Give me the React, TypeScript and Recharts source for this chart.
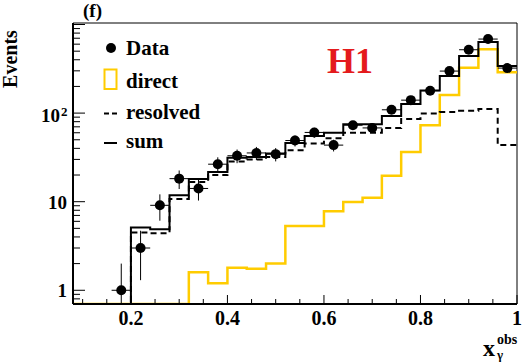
import React from "react";
import {
  ComposedChart,
  Line,
  Scatter,
  XAxis,
  YAxis,
  ErrorBar,
  ReferenceArea,
} from "recharts";

// histogram bins (left edges), width 0.04, last bin ends at 1.0
const binEdges = [
  0.08, 0.12, 0.16, 0.2, 0.24, 0.28, 0.32, 0.36, 0.4, 0.44, 0.48, 0.52,
  0.56, 0.6, 0.64, 0.68, 0.72, 0.76, 0.8, 0.84, 0.88, 0.92, 0.96,
];
const BIN_END = 1.0;
const BIN_HALF = 0.02;

const directCounts = [
  0, 0, 0, 0, 0, 0, 1.6, 1.2, 1.8, 1.75, 2.0, 5.3, 5.3, 7.8, 9.9, 11.1, 19.6,
  36.5, 73, 160, 325, 525, 290,
];
const resolvedCounts = [
  0, 0, 0, 4.5, 4.4, 10.7, 16.7, 20, 28.5, 30, 32, 38, 45.5, 52, 60, 60, 68,
  86, 99, 103, 106, 111, 43.5,
];
const sumCounts = [
  0, 0, 0, 5.1, 4.9, 11.8, 18, 21.7, 31.3, 32, 35, 46, 55, 60, 75, 75, 92.5,
  127, 180, 262, 440, 634, 340,
];

// data points (bin centres)
const dataX = [
  0.18, 0.22, 0.26, 0.3, 0.34, 0.38, 0.42, 0.46, 0.5, 0.54, 0.58, 0.62, 0.66,
  0.7, 0.74, 0.78, 0.82, 0.86, 0.9, 0.94, 0.98,
];
const dataY = [
  1, 3, 9.1, 18.2, 14.1, 26.5, 33, 35.5, 34.4, 49, 60.5, 43.5, 73, 68, 109,
  140, 179, 298, 519, 685, 322,
];
// first lower error runs down to the frame edge in the picture
const dataErrLow = [
  0.3, 1.7, 3, 4.3, 3.8, 5.2, 5.8, 6, 5.9, 7, 7.8, 6.6, 8.5, 8.2, 10.4, 11.8,
  13.4, 17.3, 22.8, 26.2, 18,
];
const dataErrHigh = [
  1, 1.7, 3, 4.3, 3.8, 5.2, 5.8, 6, 5.9, 7, 7.8, 6.6, 8.5, 8.2, 10.4, 11.8,
  13.4, 17.3, 22.8, 26.2, 18,
];

// axes
const X_MIN = 0.08;
const X_MAX = 1.0;
const Y_MIN = 0.7;
const Y_MAX = 1040;

const xMajorTicks = [0.2, 0.4, 0.6, 0.8, 1];
const xMinorTicks = [
  0.1, 0.15, 0.25, 0.3, 0.35, 0.45, 0.5, 0.55, 0.65, 0.7, 0.75, 0.85, 0.9,
  0.95,
];
const xLabelTexts = ["0.2", "0.4", "0.6", "0.8", "1"];

const yMajorTicks = [1, 10, 100, 1000];
const yMinorTicks = [
  0.8, 0.9, 2, 3, 4, 5, 6, 7, 8, 9, 20, 30, 40, 50, 60, 70, 80, 90, 200, 300,
  400, 500, 600, 700, 800, 900,
];
const yLabelValues = [1, 10, 100];
const yLabelBases = ["1", "10", "10"];
const yLabelExps = ["", "", "2"];

const FONT = "'Liberation Serif', 'Times New Roman', serif";
const YELLOW = "#ffcc00";

const clampLow = (v: number) => Math.max(v, Y_MIN);

const histRows = binEdges.map((x, i) => ({
  x,
  direct: clampLow(directCounts[i]),
  resolved: clampLow(resolvedCounts[i]),
  sum: clampLow(sumCounts[i]),
}));
histRows.push({
  x: BIN_END,
  direct: clampLow(directCounts[directCounts.length - 1]),
  resolved: clampLow(resolvedCounts[resolvedCounts.length - 1]),
  sum: clampLow(sumCounts[sumCounts.length - 1]),
});

const points = dataX.map((x, i) => ({
  x,
  y: dataY[i],
  ey: [dataErrLow[i], dataErrHigh[i]],
  ex: BIN_HALF,
}));

const XTick = (props: any) => {
  const { x, y, payload } = props;
  const v = payload.value;
  const li = xMajorTicks.indexOf(v);
  const len = li >= 0 ? 9 : 5;
  return (
    <g>
      <line x1={x} x2={x} y1={y} y2={y - len} stroke="#000" strokeWidth={1} />
      {li >= 0 && (
        <text
          x={x}
          y={y + 21}
          textAnchor="middle"
          fontFamily={FONT}
          fontWeight="bold"
          fontSize={20}
          fill="#000"
        >
          {xLabelTexts[li]}
        </text>
      )}
    </g>
  );
};

const YTick = (props: any) => {
  const { x, y, payload } = props;
  const v = payload.value;
  const major = yMajorTicks.includes(v);
  const li = yLabelValues.indexOf(v);
  const len = major ? 12 : 7;
  let label = null;
  if (li >= 0) {
    if (yLabelExps[li]) {
      label = (
        <g fontFamily={FONT} fontWeight="bold" fill="#000">
          <text x={x - 13} y={y + 9} textAnchor="end" fontSize={19}>
            {yLabelBases[li]}
          </text>
          <text x={x - 12} y={y + 3} textAnchor="start" fontSize={13}>
            {yLabelExps[li]}
          </text>
        </g>
      );
    } else {
      label = (
        <text
          x={x - 6}
          y={y + 7}
          textAnchor="end"
          fontFamily={FONT}
          fontWeight="bold"
          fontSize={19}
          fill="#000"
        >
          {yLabelBases[li]}
        </text>
      );
    }
  }
  return (
    <g>
      <line x1={x} x2={x + len} y1={y} y2={y} stroke="#000" strokeWidth={1} />
      {label}
    </g>
  );
};

const Dot = (props: any) => (
  <circle cx={props.cx} cy={props.cy} r={5} fill="#000" />
);

const Overlay = () => (
  <svg
    width={522}
    height={363}
    style={{ position: "absolute", left: 0, top: 0, pointerEvents: "none" }}
  >
    <g fontFamily={FONT} fontWeight="bold" fill="#000">
      <text x={83} y={17} fontSize={19}>
        (f)
      </text>
      <text
        x={0}
        y={0}
        fontSize={20}
        textAnchor="middle"
        transform="translate(17,59) rotate(-90)"
      >
        Events
      </text>

      <circle cx={111} cy={48} r={5} fill="#000" />
      <text x={126} y={55} fontSize={21}>
        Data
      </text>
      <rect
        x={104.5}
        y={69.5}
        width={12}
        height={19.5}
        fill="none"
        stroke={YELLOW}
        strokeWidth={2}
      />
      <text x={126} y={88} fontSize={21}>
        direct
      </text>
      <line
        x1={104}
        x2={117}
        y1={113.5}
        y2={113.5}
        stroke="#000"
        strokeWidth={2}
        strokeDasharray="5 3"
      />
      <text x={126} y={119} fontSize={21}>
        resolved
      </text>
      <line x1={104} x2={117} y1={143} y2={143} stroke="#000" strokeWidth={2} />
      <text x={126} y={148} fontSize={21}>
        sum
      </text>

      <text x={327} y={73} fontSize={36} fill="#e41a1c">
        H1
      </text>

      <text x={483} y={356} fontSize={24}>
        x
      </text>
      <text x={497} y={344} fontSize={14}>
        obs
      </text>
      <text x={497} y={359} fontSize={13}>
        γ
      </text>
    </g>
  </svg>
);

export default function App() {
  return (
    <div
      style={{
        position: "absolute",
        left: 0,
        top: 0,
        width: 522,
        height: 363,
        background: "#fff",
      }}
    >
      <ComposedChart
        width={522}
        height={363}
        data={histRows}
        margin={{ top: 23, right: 5, bottom: 0, left: 0 }}
      >
        <XAxis
          dataKey="x"
          type="number"
          domain={[X_MIN, X_MAX]}
          allowDataOverflow
          ticks={[...xMajorTicks, ...xMinorTicks]}
          interval={0}
          tick={<XTick />}
          tickLine={false}
          tickSize={0}
          tickMargin={0}
          axisLine={{ stroke: "#000", strokeWidth: 2 }}
          height={59}
        />
        <YAxis
          type="number"
          scale="log"
          domain={[Y_MIN, Y_MAX]}
          allowDataOverflow
          ticks={[...yMajorTicks, ...yMinorTicks]}
          interval={0}
          tick={<YTick />}
          tickLine={false}
          tickSize={0}
          tickMargin={0}
          axisLine={{ stroke: "#000", strokeWidth: 2 }}
          width={73}
        />
        <ReferenceArea
          x1={X_MIN}
          x2={X_MAX}
          y1={Y_MIN}
          y2={Y_MAX}
          fill="none"
          stroke="#000"
          strokeWidth={1}
        />
        <Line
          type="stepAfter"
          dataKey="direct"
          stroke={YELLOW}
          strokeWidth={2.5}
          dot={false}
          activeDot={false}
          isAnimationActive={false}
        />
        <Line
          type="stepAfter"
          dataKey="resolved"
          stroke="#000"
          strokeWidth={2}
          strokeDasharray="6 4"
          dot={false}
          activeDot={false}
          isAnimationActive={false}
        />
        <Line
          type="stepAfter"
          dataKey="sum"
          stroke="#000"
          strokeWidth={2}
          dot={false}
          activeDot={false}
          isAnimationActive={false}
        />
        <Scatter
          data={points}
          dataKey="y"
          shape={<Dot />}
          isAnimationActive={false}
        >
          <ErrorBar
            dataKey="ey"
            direction="y"
            width={0}
            stroke="#000"
            strokeWidth={1}
          />
          <ErrorBar
            dataKey="ex"
            direction="x"
            width={0}
            stroke="#000"
            strokeWidth={1}
          />
        </Scatter>
      </ComposedChart>
      <Overlay />
    </div>
  );
}
